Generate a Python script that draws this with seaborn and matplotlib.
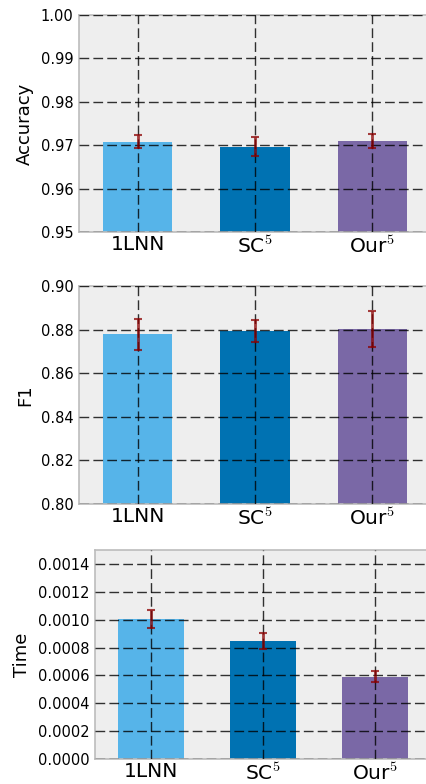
import matplotlib
matplotlib.use("Agg")
import matplotlib.pyplot as plt
import seaborn as sns
import pandas as pd
import numpy as np

methods = ["1LNN", "SC$^5$", "Our$^5$"]
colors = ["#56B4E9", "#0072B2", "#7A68A6"]

accuracy = [0.9708, 0.9696, 0.9710]
accuracy_err = [0.0015, 0.0022, 0.0016]

f1 = [0.8778, 0.8793, 0.8801]
f1_err = [0.0070, 0.0052, 0.0083]

time_vals = [0.001006, 0.000850, 0.000592]
time_err = [0.000065, 0.000057, 0.000036]

sns.set_style("white")
plt.rcParams["font.family"] = ["DejaVu Sans"]
plt.rcParams["mathtext.fontset"] = "cm"
plt.rcParams["mathtext.rm"] = "serif"
for k in ["text.color", "axes.labelcolor", "xtick.color", "ytick.color"]:
    plt.rcParams[k] = "black"

fig = plt.figure(figsize=(4.27, 7.84), dpi=100)
W, H = 427.0, 784.0

def add_ax(l, r, t, b):
    return fig.add_axes([l / W, (H - b) / H, (r - l) / W, (b - t) / H])

panels = [
    (add_ax(79, 431, 15, 232), accuracy, accuracy_err, "Accuracy", (0.95, 1.00), np.arange(0.95, 1.0001, 0.01), "{:.2f}"),
    (add_ax(79, 431, 286, 504), f1, f1_err, "F1", (0.80, 0.90), np.arange(0.80, 0.9001, 0.02), "{:.2f}"),
    (add_ax(95, 431, 550, 759), time_vals, time_err, "Time", (0.0, 0.0015), np.arange(0.0, 0.00141, 0.0002), "{:.4f}"),
]

for ax, vals, errs, label, ylim, ticks, fmt in panels:
    df = pd.DataFrame({"method": methods, "value": vals})
    sns.barplot(data=df, x="method", y="value", hue="method", palette=colors,
                width=0.59, ax=ax, legend=False, saturation=1, errorbar=None,
                edgecolor="none", zorder=1)
    ax.errorbar(range(len(vals)), vals, yerr=errs, fmt="none", ecolor="#8B0000",
                elinewidth=2, capsize=3, capthick=1.5, alpha=0.75, zorder=5)
    ax.set_facecolor("#EEEEEE")
    ax.set_ylim(*ylim)
    ax.set_xlim(-0.5, 2.5)
    ax.set_yticks(ticks)
    ax.set_yticklabels([fmt.format(t) for t in ticks], fontsize=10.5)
    ax.set_xlabel("")
    ax.set_ylabel(label, fontsize=13, labelpad=5)
    ax.tick_params(axis="x", labelsize=14.5, length=0, pad=2.5)
    ax.tick_params(axis="y", length=0, pad=4)
    ax.grid(True, color="black", linestyle=(0, (7, 3)), linewidth=1.0, alpha=0.8)
    ax.set_axisbelow(False)
    for s in ax.spines.values():
        s.set_color("#BCBCBC")
        s.set_linewidth(1.2)

fig.savefig("out.png", dpi=100)
